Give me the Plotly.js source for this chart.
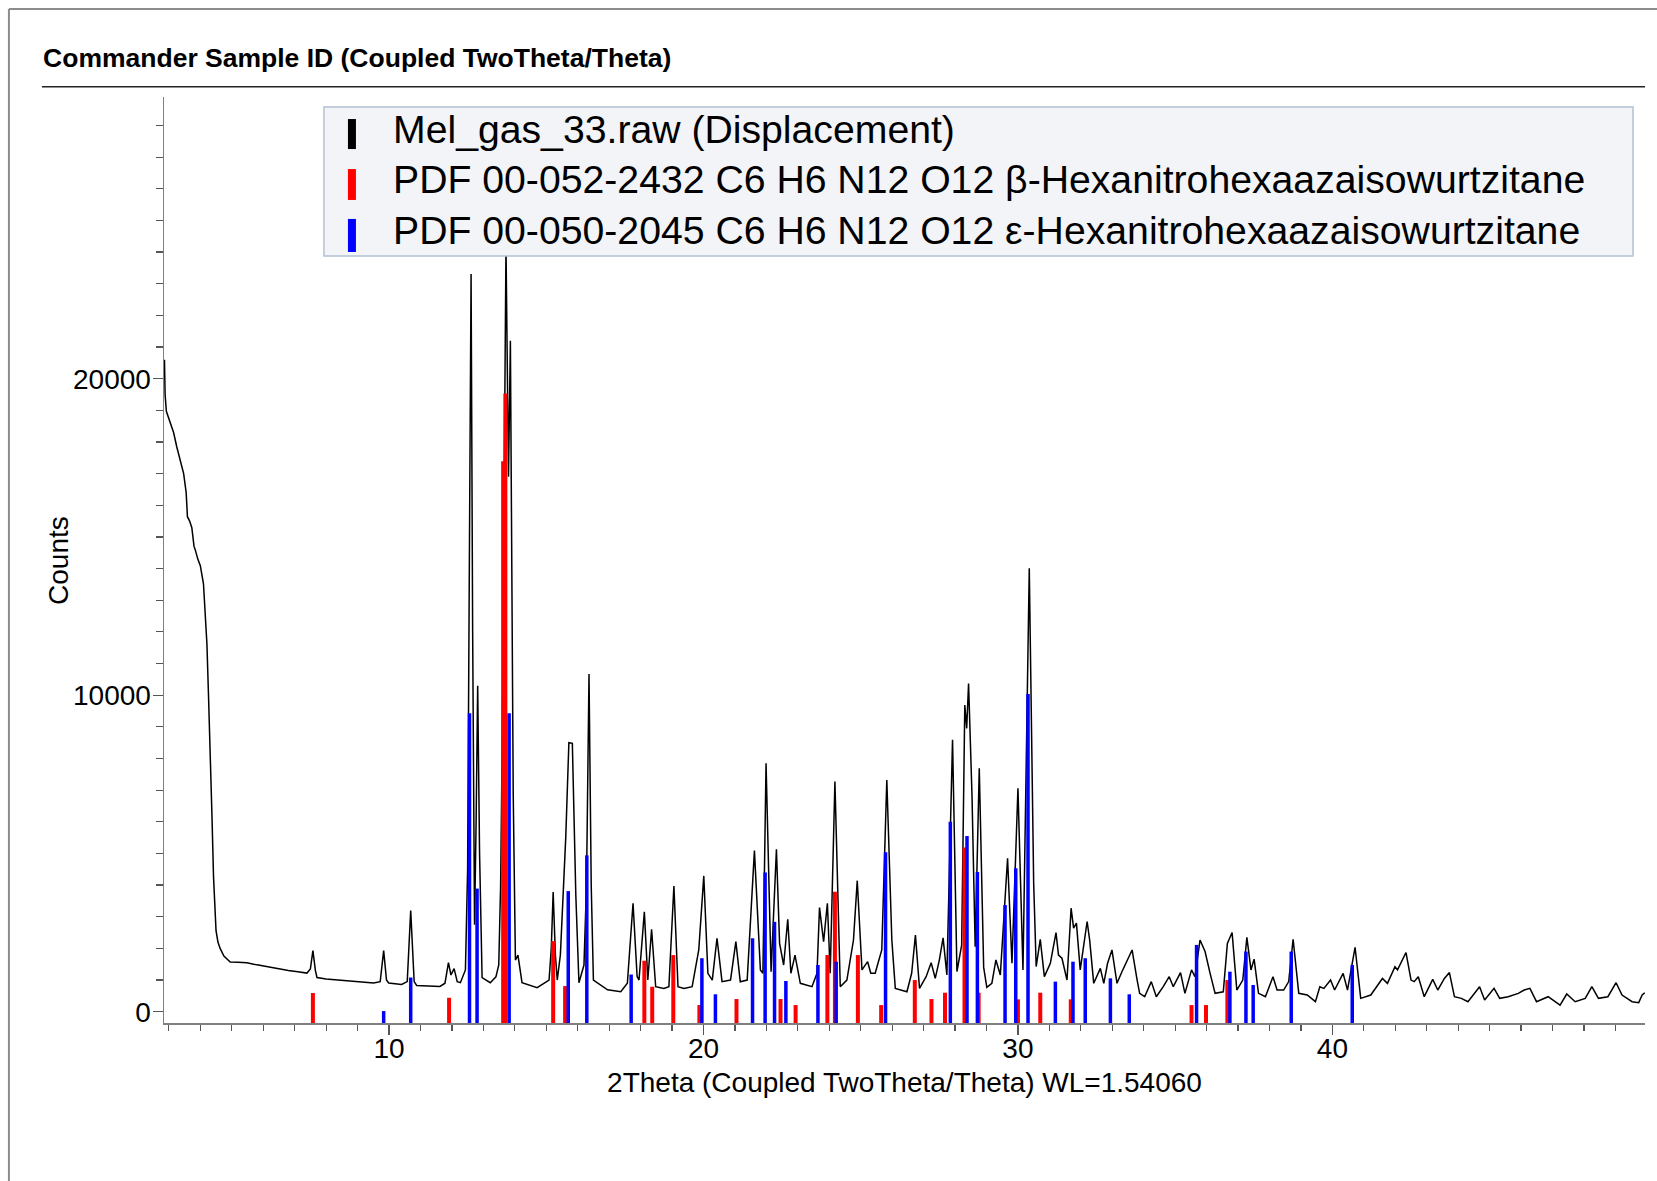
<!DOCTYPE html>
<html><head><meta charset="utf-8">
<script src="https://cdn.plot.ly/plotly-3.0.1.min.js"></script>
<style>html,body{margin:0;padding:0;background:#fff}#chart{width:1657px;height:1181px}</style>
</head><body><div id="chart"></div>
<script>
// Measured pattern: 2Theta (deg) and Counts
const twoTheta = [2.86,2.88,2.92,3.04,3.15,3.25,3.35,3.47,3.55,3.59,3.66,3.73,3.80,3.84,3.92,4.00,4.10,4.15,4.21,4.26,4.31,4.37,4.42,4.46,4.50,4.56,4.63,4.75,4.95,5.2,5.48,5.8,6.1,6.43,6.8,7.1,7.39,7.5,7.58,7.66,7.71,8.0,8.56,9.0,9.51,9.72,9.83,9.92,9.99,10.4,10.58,10.69,10.8,10.88,11.3,11.62,11.78,11.89,11.97,12.07,12.17,12.27,12.43,12.50,12.56,12.61,12.66,12.72,12.77,12.82,12.88,12.96,13.22,13.40,13.49,13.55,13.60,13.66,13.72,13.80,13.86,13.95,14.02,14.1,14.23,14.71,15.09,15.16,15.22,15.29,15.35,15.45,15.51,15.62,15.72,15.83,15.94,16.04,16.2,16.28,16.36,16.43,16.5,16.95,17.37,17.58,17.76,17.89,17.95,18.12,18.23,18.35,18.48,18.74,18.9,19.06,19.19,19.38,19.64,19.85,20.01,20.14,20.28,20.43,20.59,20.86,21.03,21.17,21.39,21.62,21.81,21.89,21.99,22.15,22.32,22.42,22.55,22.68,22.78,22.91,23.08,23.45,23.61,23.69,23.82,23.94,24.03,24.18,24.35,24.56,24.77,24.89,25.04,25.22,25.32,25.46,25.67,25.83,25.99,26.1,26.47,26.62,26.74,26.87,27.08,27.24,27.37,27.5,27.62,27.74,27.92,28.06,28.21,28.31,28.37,28.43,28.54,28.64,28.77,28.91,29.01,29.17,29.3,29.44,29.67,29.81,30.0,30.16,30.36,30.5,30.58,30.71,30.84,31.03,31.21,31.29,31.4,31.56,31.69,31.77,31.86,31.98,32.2,32.28,32.41,32.62,32.73,32.85,32.99,33.15,33.31,33.63,33.79,33.87,34.03,34.24,34.4,34.62,34.81,34.94,35.17,35.31,35.52,35.63,35.79,35.95,36.11,36.27,36.53,36.66,36.81,36.96,37.15,37.28,37.41,37.51,37.65,37.87,38.11,38.24,38.45,38.61,38.75,38.93,39.2,39.46,39.6,39.73,39.94,40.07,40.34,40.48,40.72,40.9,41.22,41.59,41.75,41.99,42.07,42.2,42.34,42.5,42.6,42.73,42.92,43.19,43.35,43.56,43.72,43.88,44.1,44.31,44.68,44.84,45.14,45.32,45.59,45.91,46.1,46.28,46.49,46.86,47.24,47.45,47.72,48.04,48.25,48.46,48.76,49.02,49.21,49.53,49.74,49.85,49.93];
const counts = [20600,19500,18970,18610,18300,17850,17500,17000,16400,15640,15500,15290,14700,14590,14300,14090,13520,12800,11620,10000,8500,6200,4260,3200,2560,2200,2000,1760,1570,1560,1545,1480,1420,1360,1300,1260,1220,1350,1930,1300,1080,1030,980,940,905,950,1930,1000,905,860,950,3200,950,830,810,800,900,1550,1160,1360,950,917,1320,4500,15000,23310,12000,2750,6000,10300,5000,1075,917,1100,1475,4000,8480,18000,24200,16900,21200,6880,1630,1790,917,760,1000,2000,3780,1800,1000,1800,3220,5500,8500,8480,3700,917,1475,4000,10670,4000,1000,690,632,897,3425,1107,1000,3160,1000,2600,790,737,790,3970,790,737,790,1950,4290,1213,1000,2320,948,1000,2215,948,1000,5090,1320,1213,7850,1265,5130,2160,1475,2920,1213,1790,897,790,1213,3290,2215,3425,1213,7270,790,1000,2265,4140,1320,1580,1213,1213,1950,7320,2265,737,632,1213,2425,737,1107,1550,1055,1630,2330,1160,8590,1270,2100,9690,8950,10370,6800,2055,7690,1400,770,897,1635,1160,4850,1530,7060,1320,14010,4060,1425,2285,1110,1530,2500,1790,1690,1000,3270,2640,2800,1320,2850,2270,897,1370,897,1530,1950,897,1270,1950,1000,580,474,950,474,790,1105,790,1235,580,1320,1105,2265,1900,1210,580,630,2160,2500,685,1000,2350,1320,1660,580,474,1105,685,685,950,2290,580,527,316,790,737,1000,685,1210,685,2035,422,527,1050,895,1420,1320,1580,1870,1000,950,1105,474,1020,685,1050,1235,474,422,316,790,370,737,422,474,580,685,737,316,474,210,558,316,422,790,422,474,915,527,316,285,527,600];

// Reference patterns: stick positions (deg) and stick tops (Counts scale)
const betaPos = [7.58,11.91,13.63,13.70,15.22,15.60,18.12,18.37,19.04,19.87,21.05,22.45,22.93,23.94,24.18,24.91,25.65,26.72,27.25,27.68,28.30,28.75,30.00,30.71,31.68,35.52,35.98,36.66];
const betaTop = [590,440,17390,19530,2230,810,1610,790,1790,210,400,400,210,1790,3790,1790,210,1000,400,600,5190,600,390,600,390,210,210,1000];
const epsPos = [9.83,10.69,12.56,12.80,13.82,15.70,16.29,17.70,19.95,20.38,21.56,21.96,22.26,22.62,23.64,24.22,25.79,27.85,28.38,28.71,29.59,29.93,30.32,31.19,31.75,32.14,32.94,33.54,35.68,36.74,37.25,37.48,38.69,40.63];
const epsTop = [20,1080,9430,3890,9430,3810,4940,1175,1690,550,2320,4400,2840,970,1475,1580,5040,6000,5550,4410,3370,4530,10040,950,1580,1690,1055,550,2110,1265,1900,845,1900,1475];

const legendNames = ["Mel_gas_33.raw (Displacement)",
  "PDF 00-052-2432 C6 H6 N12 O12 β-Hexanitrohexaazaisowurtzitane",
  "PDF 00-050-2045 C6 H6 N12 O12 ε-Hexanitrohexaazaisowurtzitane"];
const legendColors = ["#000000","#ff0000","#0000ff"];

const X_RANGE = [2.845, 49.94];
const Y_RANGE = [-357, 28900];
const FONT = "Liberation Sans, Arial, sans-serif";

function sticks(pos, top, base){
  const x = [], y = [];
  pos.forEach((p, i) => { x.push(p, p, null); y.push(base, top[i], null); });
  return {x, y};
}
const bs = sticks(betaPos, betaTop, Y_RANGE[0]);
const es = sticks(epsPos, epsTop, Y_RANGE[0]);

const traces = [
  {type:'scatter', mode:'lines', x: twoTheta, y: counts, line:{color:'#000', width:1.5}, name: legendNames[0], hoverinfo:'skip'},
  {type:'scatter', mode:'lines', x: bs.x, y: bs.y, line:{color:'#ff0000', width:4}, name: legendNames[1], connectgaps:false, hoverinfo:'skip'},
  {type:'scatter', mode:'lines', x: es.x, y: es.y, line:{color:'#0000ff', width:3.5}, name: legendNames[2], connectgaps:false, hoverinfo:'skip'}
];

// legend geometry in paper coords
const L = {x0:0.108, x1:0.9919, y0:0.8283, y1:0.9892};
const markerRows = [[0.9438,0.9762],[0.8888,0.9222],[0.8326,0.8683]];
const textRows = [0.9654,0.9107,0.8559];

const shapes = [
  {type:'line', xref:'paper', yref:'paper', x0:-0.1047, x1:1.01, y0:1.095, y1:1.095, line:{color:'#8c8c8c', width:2}},
  {type:'line', xref:'paper', yref:'paper', x0:-0.1047, x1:-0.1047, y0:1.095, y1:-0.18, line:{color:'#8c8c8c', width:2}},
  {type:'line', xref:'paper', yref:'paper', x0:-0.0824, x1:1.0, y0:1.0111, y1:1.0111, line:{color:'#222', width:1.5}},
  {type:'rect', xref:'paper', yref:'paper', x0:L.x0, x1:L.x1, y0:L.y0, y1:L.y1, fillcolor:'#f3f4f7', line:{color:'#b4c0d2', width:1.5}, layer:'above'}
];
const annotations = [
  // y-axis title
  {xref:'paper', yref:'paper', x:-0.0716, y:0.5, xanchor:'center', yanchor:'middle', textangle:-90, text:'Counts', showarrow:false, font:{family:FONT, size:28, color:'#000'}}
];
legendNames.forEach((n, i) => {
  shapes.push({type:'rect', xref:'paper', yref:'paper', x0:0.1242, x1:0.1296, y0:markerRows[i][0], y1:markerRows[i][1], fillcolor:legendColors[i], line:{width:0}, layer:'above'});
  annotations.push({xref:'paper', yref:'paper', x:0.1535, y:textRows[i], xanchor:'left', yanchor:'middle', text:n, showarrow:false, font:{family:FONT, size:39.2, color:'#000'}});
});

const layout = {
  width:1657, height:1181,
  margin:{l:164, r:12, t:97, b:158},
  paper_bgcolor:'#fff', plot_bgcolor:'#fff',
  showlegend:false,
  font:{family:FONT, size:28, color:'#000'},
  title:{text:'Commander Sample ID (Coupled TwoTheta/Theta)', xref:'container', yref:'container', x:0.026, xanchor:'left', y:0.9509, yanchor:'middle',
    font:{family:FONT, size:26.5, weight:'bold', color:'#000'}},
  xaxis:{range:X_RANGE, showgrid:false, zeroline:false, showline:true, linecolor:'#808080', linewidth:1.5,
    ticks:'outside', tick0:0, dtick:10, ticklen:10, tickcolor:'#555', tickwidth:1.2,
    minor:{dtick:1, ticks:'outside', ticklen:6, tickcolor:'#555', tickwidth:1.2},
    ticklabelstandoff:-10,
    tickfont:{family:FONT, size:28, color:'#000'},
    title:{text:'2Theta (Coupled TwoTheta/Theta) WL=1.54060', standoff:9, font:{family:FONT, size:28, color:'#000'}}},
  yaxis:{range:Y_RANGE, showgrid:false, zeroline:false, showline:true, linecolor:'#808080', linewidth:1.5,
    ticks:'outside', tick0:0, dtick:10000, ticklen:10, tickcolor:'#555', tickwidth:1.2,
    minor:{dtick:1000, ticks:'outside', ticklen:7, tickcolor:'#555', tickwidth:1.2},
    tickformat:'d', ticklabelstandoff:-4,
    tickfont:{family:FONT, size:28, color:'#000'}},
  shapes: shapes,
  annotations: annotations
};

Plotly.newPlot('chart', traces, layout, {staticPlot:true, displayModeBar:false});
</script>
</body></html>
